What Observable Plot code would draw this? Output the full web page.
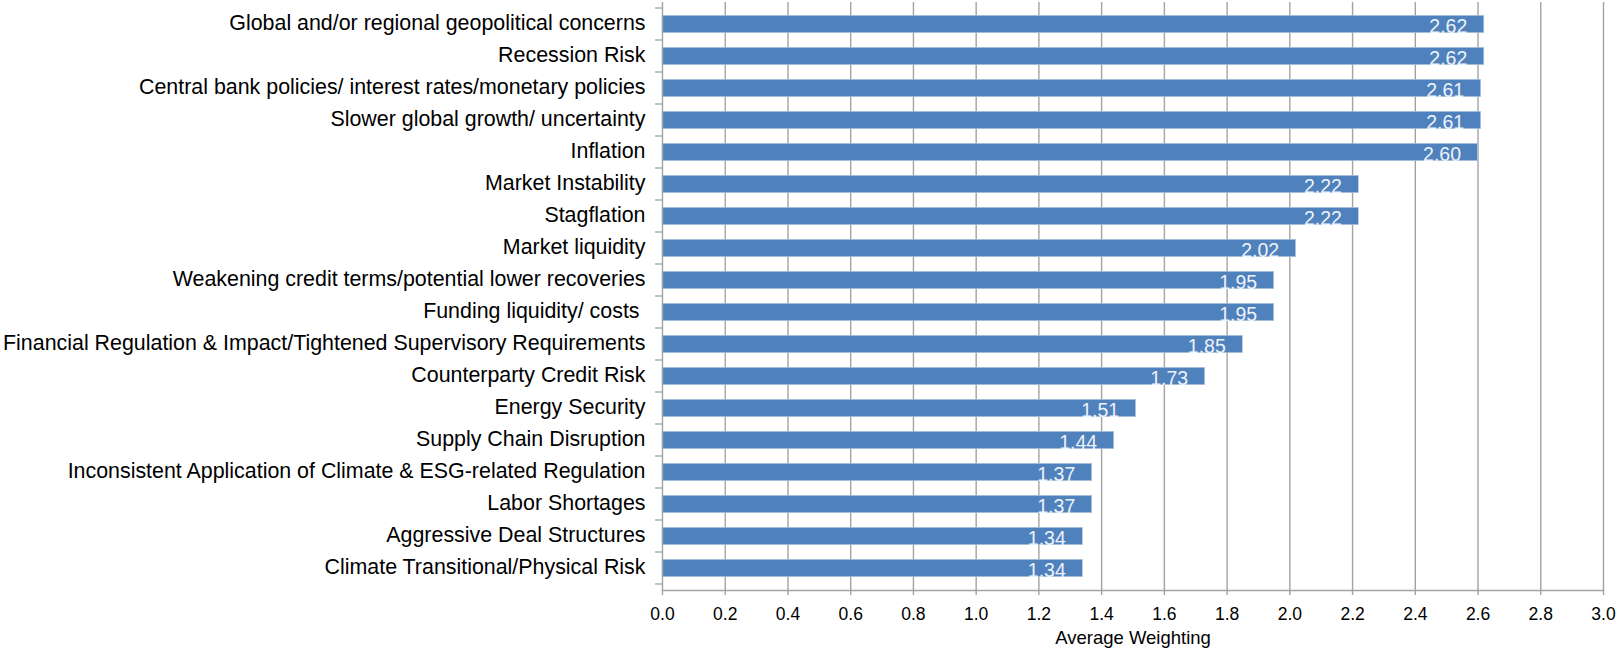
<!DOCTYPE html>
<html>
<head>
<meta charset="utf-8">
<script src="https://cdn.jsdelivr.net/npm/d3@7"></script>
<script src="https://cdn.jsdelivr.net/npm/@observablehq/plot@0.6"></script>
<style>
  html, body { margin: 0; padding: 0; background: #fff; }
  #chart svg { display: block; font-family: "Liberation Sans", Arial, sans-serif; }
</style>
</head>
<body>
<div id="chart"></div>
<script>
// Risk factors, top to bottom
const categories = [
  "Global and/or regional geopolitical concerns",
  "Recession Risk",
  "Central bank policies/ interest rates/monetary policies",
  "Slower global growth/ uncertainty",
  "Inflation",
  "Market Instability",
  "Stagflation",
  "Market liquidity",
  "Weakening credit terms/potential lower recoveries",
  "Funding liquidity/ costs ",
  "Financial Regulation & Impact/Tightened Supervisory Requirements",
  "Counterparty Credit Risk",
  "Energy Security",
  "Supply Chain Disruption",
  "Inconsistent Application of Climate & ESG-related Regulation",
  "Labor Shortages",
  "Aggressive Deal Structures",
  "Climate Transitional/Physical Risk"
];

// Average weighting per factor
const weights = [2.62, 2.62, 2.61, 2.61, 2.60, 2.22, 2.22, 2.02, 1.95, 1.95, 1.85, 1.73, 1.51, 1.44, 1.37, 1.37, 1.34, 1.34];

// Horizontal axis ticks
const xTicks = [0, 0.2, 0.4, 0.6, 0.8, 1.0, 1.2, 1.4, 1.6, 1.8, 2.0, 2.2, 2.4, 2.6, 2.8, 3.0];

const axisTitle = "Average Weighting";

const rows = categories.map((name, i) => ({name, value: weights[i]}));

const gridColor = "#a3a3a3";
const barColor = "#4f81bd";

// Small tick marks on the left axis at the boundaries between categories
function bandTicks(index, scales, values, dimensions) {
  const y = scales.y;
  const step = y.bandwidth();
  const x0 = dimensions.marginLeft;
  const g = d3.create("svg:g").attr("stroke", gridColor).attr("stroke-width", 1.3);
  const bounds = categories.map(c => y(c));
  bounds.push(y(categories[categories.length - 1]) + step);
  for (const b of bounds) {
    g.append("line").attr("x1", x0 - 7).attr("x2", x0).attr("y1", b).attr("y2", b);
  }
  return g.node();
}

const chart = Plot.plot({
  width: 1620,
  height: 652,
  marginTop: 2,
  marginBottom: 62,
  marginLeft: 662,
  marginRight: 17,
  style: {fontFamily: "'Liberation Sans', Arial, sans-serif", background: "#fff", color: "#000"},
  x: {domain: [0, 3], ticks: xTicks},
  y: {domain: categories, padding: 0},
  marks: [
    // vertical gridlines
    Plot.ruleX(xTicks.slice(1), {stroke: gridColor, strokeWidth: 1.4}),
    // bars, inset within each band
    Plot.barX(rows, {
      x: "value", y: "name", insetTop: 7.3, insetBottom: 7.3,
      fill: barColor, stroke: "#b8cce4", strokeWidth: 0.6
    }),
    // value labels inside the bar ends
    Plot.text(rows, {
      x: "value", y: "name", text: d => d3.format(".2f")(d.value),
      textAnchor: "end", dx: -17, dy: 2, fill: "#eef2f9", fontSize: 19.5
    }),
    // left axis line and band ticks
    Plot.ruleX([0], {stroke: gridColor, strokeWidth: 1.4}),
    bandTicks,
    Plot.axisY({tickSize: 0, tickPadding: 17, fontSize: 21.4, dy: -1, label: null}),
    Plot.axisX({
      ticks: xTicks, tickFormat: d3.format(".1f"), tickSize: 5, tickPadding: 12.5,
      fontSize: 17.5, stroke: gridColor, strokeWidth: 1.4, label: null
    }),
    // bottom axis line
    Plot.frame({anchor: "bottom", stroke: gridColor, strokeWidth: 1.4}),
    Plot.text([axisTitle], {frameAnchor: "bottom", dy: 53.4, fontSize: 18.5, fill: "#000"})
  ]
});

document.getElementById("chart").append(chart);
</script>
</body>
</html>
